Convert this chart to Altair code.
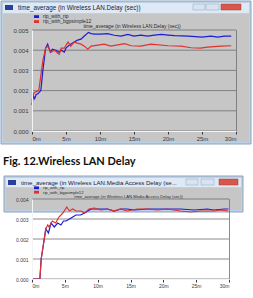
import altair as alt
import pandas as pd

# ---------------- data ----------------
series_names = ["rip_with_rip", "rip_with_bgpsimple12"]
series_colors = ["#1c1cd6", "#e03030"]

# Panel 1: time_average (in Wireless LAN.Delay (sec))
delay_rip_t = [0, 0.2, 0.4, 0.6, 0.9, 1.3, 1.6, 2.0, 2.3, 2.7, 3.0, 3.5, 4.0, 4.3, 4.75, 5.0,
               5.3, 5.7, 6.2, 6.7, 7.2, 7.7, 8.3, 8.7, 9.2, 10.1, 11.1, 12.1, 13.1, 14.1, 15.0,
               16.0, 17.0, 18.0, 19.0, 20.0, 21.0, 23.0, 25.0, 26.3, 27.3, 28.3, 29.3]
delay_rip_v = [0.00130, 0.00175, 0.00160, 0.00180, 0.00185, 0.00200, 0.00300, 0.00410, 0.00430,
               0.00390, 0.00405, 0.00400, 0.00390, 0.00400, 0.00390, 0.00410, 0.00420, 0.00430,
               0.00440, 0.00450, 0.00455, 0.00470, 0.00488, 0.00482, 0.00480, 0.00480, 0.00482,
               0.00474, 0.00470, 0.00478, 0.00470, 0.00475, 0.00470, 0.00475, 0.00478, 0.00475,
               0.00472, 0.00470, 0.00465, 0.00470, 0.00465, 0.00470, 0.00470]
delay_bgp_t = [0, 0.3, 1.0, 1.6, 2.0, 2.3, 2.8, 3.3, 3.8, 4.0, 4.3, 4.75, 5.1, 5.3, 5.7, 6.2,
               7.2, 7.7, 8.2, 8.7, 9.7, 10.6, 11.6, 13.6, 14.6, 16.0, 17.5, 20.0, 21.9, 23.4,
               24.8, 25.8, 27.8, 29.3]
delay_bgp_v = [0.00150, 0.00190, 0.00200, 0.00350, 0.00410, 0.00420, 0.00390, 0.00400, 0.00385,
               0.00380, 0.00410, 0.00410, 0.00430, 0.00440, 0.00420, 0.00440, 0.00430, 0.00420,
               0.00405, 0.00420, 0.00425, 0.00430, 0.00420, 0.00432, 0.00422, 0.00420, 0.00430,
               0.00422, 0.00420, 0.00412, 0.00410, 0.00415, 0.00420, 0.00422]

# Panel 2: time_average (in Wireless LAN.Media Access Delay (sec))
mad_rip_t = [0, 1.2, 1.4, 2.1, 2.5, 2.9, 3.4, 3.9, 4.4, 4.8, 5.2, 5.7, 6.2, 6.7, 7.4, 8.0, 8.5,
             9.0, 10.5, 11.5, 12.5, 13.5, 14.5, 15.6, 17.6, 19.6, 20.6, 22.6, 24.7, 26.7, 27.7,
             29.3, 29.9]
mad_rip_v = [0.0, 0.0, 0.0010, 0.0025, 0.0023, 0.0028, 0.0026, 0.0028, 0.0027, 0.0029, 0.0029,
             0.0030, 0.0031, 0.0032, 0.0032, 0.0033, 0.0034, 0.0035, 0.0035, 0.0035, 0.0034,
             0.0035, 0.0035, 0.00345, 0.0035, 0.0035, 0.0035, 0.0035, 0.00345, 0.0035, 0.00345,
             0.0035, 0.0035]
mad_bgp_t = [0, 1.2, 1.4, 2.1, 2.4, 2.6, 3.1, 3.6, 4.1, 4.7, 5.3, 5.7, 6.2, 6.7, 7.5, 8.0, 8.7,
             9.5, 10.5, 11.5, 12.5, 13.5, 14.5, 16.0, 17.6, 19.1, 20.6, 22.6, 24.2, 25.7, 27.7,
             28.7, 29.9]
mad_bgp_v = [0.0, 0.0, 0.0010, 0.0025, 0.0027, 0.0026, 0.0029, 0.0028, 0.0031, 0.0033, 0.0036,
             0.0034, 0.0035, 0.0034, 0.0034, 0.0033, 0.0035, 0.00355, 0.00345, 0.0035, 0.0034,
             0.0035, 0.0034, 0.0035, 0.0035, 0.00345, 0.0035, 0.0034, 0.00335, 0.0034, 0.0034,
             0.00345, 0.0034]

x_ticks = [0, 5, 10, 15, 20, 25, 30]
top_y_ticks = [0.000, 0.001, 0.002, 0.003, 0.004, 0.005]
bottom_y_ticks = [0.000, 0.001, 0.002, 0.003, 0.004]

caption_text = "Fig. 12.Wireless LAN Delay"

FONT = "Liberation Sans"


def one():
    return pd.DataFrame({"a": [0]})


def rect(x, x2, y, y2, fill, stroke=None, sw=1):
    kw = dict(fill=fill)
    if stroke:
        kw["stroke"] = stroke
        kw["strokeWidth"] = sw
    else:
        kw["strokeWidth"] = 0
    return alt.Chart(one()).mark_rect(**kw).encode(
        x=alt.value(x), x2=alt.value(x2), y=alt.value(y), y2=alt.value(y2))


def txt(x, y, s, size, color="#1a1a1a", align="left", weight="normal", font=FONT):
    return alt.Chart(one()).mark_text(
        align=align, baseline="alphabetic", fontSize=size, color=color,
        fontWeight=weight, font=font).encode(
        x=alt.value(x), y=alt.value(y), text=alt.value(s))


def panel(w, h, fl, fr, ft, fb, bar_h, title, title_size, buttons, leg, subtitle, sub_y,
          yticks, t1, v1, t2, v2, lab_size):
    df = pd.concat([
        pd.DataFrame({"t": t1, "v": v1, "s": series_names[0]}),
        pd.DataFrame({"t": t2, "v": v2, "s": series_names[1]}),
    ])
    ymax = yticks[-1]
    xs = alt.Scale(domain=[0, 30], nice=False, zero=False)
    ys = alt.Scale(domain=[0, ymax], nice=False)
    yaxis = alt.Axis(values=yticks, format=".3f", grid=False, tickSize=0, labelPadding=4,
                     labelFontSize=lab_size, labelColor="#3a3a3a", labelFont=FONT,
                     domainColor="#f4f4f4", domainWidth=1, title=None, zindex=1)
    xaxis = alt.Axis(values=x_ticks, labelExpr="datum.value + 'm'", grid=False, tickSize=3,
                     tickColor="#3a3a3a", labelPadding=1, labelFontSize=lab_size,
                     labelColor="#3a3a3a", labelFont=FONT, domainColor="#f4f4f4",
                     title=None, zindex=1)

    b1, b2, b3 = buttons
    ly1, ly2, lsz = leg
    layers = [
        # window frame
        rect(fl, fr, ft, fb, "#bcd0e6", stroke="#8ea3bb"),
        rect(fl + 2, fr - 2, ft + bar_h + 1, fb - 2, "#c6c6c6"),
        # title bar
        rect(fl + 2, fr - 2, ft + 2, ft + bar_h, "#dfe9f5"),
        rect(fl + 4, fl + 12, ft + 4, ft + 9, "#27409a"),
        txt(fl + 17, ft + 9, title, title_size, color="#202030"),
        # window buttons
        rect(fr - b1[0], fr - b1[1], ft + 3, ft + 9, "#d7e3f0", stroke="#8ea3bb", sw=0.5),
        rect(fr - b2[0], fr - b2[1], ft + 3, ft + 9, "#d7e3f0", stroke="#8ea3bb", sw=0.5),
        rect(fr - b3[0], fr - b3[1], ft + 3, ft + 9, "#d9574a", stroke="#a33a30", sw=0.5),
        # legend
        rect(2, 7, ly1 - 2.8, ly1, series_colors[0]),
        rect(2, 7, ly2 - 2.8, ly2, series_colors[1]),
        txt(11, ly1, series_names[0], lsz, color="#2a2a2a"),
        txt(11, ly2, series_names[1], lsz, color="#2a2a2a"),
        txt(w / 2 - 2, sub_y, subtitle, lsz, color="#2a2a2a", align="center"),
    ]
    grid = alt.Chart(pd.DataFrame({"v": yticks})).mark_rule(
        color="#6f6f6f", strokeWidth=0.8).encode(
        y=alt.Y("v:Q", scale=ys, axis=yaxis), x=alt.value(0), x2=alt.value(w))
    right_edge = rect(w, w + 0.8, 0, h, "#6f6f6f")
    lines = alt.Chart(df).mark_line(strokeWidth=1.2).encode(
        x=alt.X("t:Q", scale=xs, axis=xaxis),
        y=alt.Y("v:Q", scale=ys, axis=yaxis),
        color=alt.Color("s:N", scale=alt.Scale(domain=series_names, range=series_colors),
                        legend=None),
    )
    layers += [grid, right_edge, lines]
    return alt.layer(*layers).properties(width=w, height=h)


top = panel(204, 101, -31, 219, -29, 114, 12,
            "time_average (in Wireless LAN.Delay (sec))", 6.3,
            [(58, 46), (45, 32), (30, 10)],
            (-12, -7, 5),
            "time_average (in Wireless LAN.Delay (sec))", -2.5,
            top_y_ticks, delay_rip_t, delay_rip_v, delay_bgp_t, delay_bgp_v, 6)

caption = alt.layer(
    txt(-29, 20, caption_text, 11, color="#111111", weight="bold", font="Lato")
).properties(width=100, height=30)

bottom = panel(197, 80, -28, 211, -23, 13, 11,
               "time_average (in Wireless LAN.Media Access Delay (se...", 6.1,
               [(57, 45), (42, 29), (24, 5)],
               (-9.8, -5.4, 4.2),
               "time_average (in Wireless LAN.Media Access Delay (sec))", -1.0,
               bottom_y_ticks, mad_rip_t, mad_rip_v, mad_bgp_t, mad_bgp_v, 5)

chart = alt.vconcat(top, caption, bottom, spacing=0).configure(
    padding=0, background="white").configure_view(stroke=None)

chart.save("out.html", embed_options={"renderer": "svg", "actions": False})
